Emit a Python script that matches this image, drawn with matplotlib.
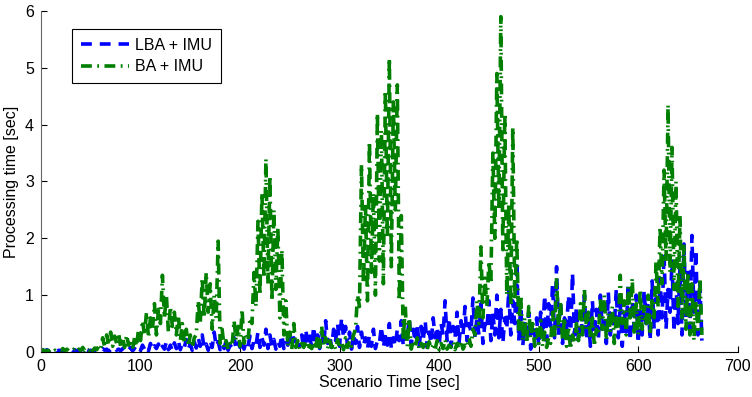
import numpy as np
import matplotlib.pyplot as plt

# sample times [sec], one sample every 2 sec
t_step = 2
t_end = 664

# BA + IMU processing time [sec]
ba_imu = [
    0.02, 0.04, 0.01, 0.03, 0.02, 0.05, 0.01, 0.03, 0.02, 0.04,
    0.03, 0.06, 0.02, 0.05, 0.02, 0.04, 0.03, 0.07, 0.02, 0.05,
    0.03, 0.08, 0.02, 0.06, 0.03, 0.09, 0.02, 0.07, 0.04, 0.10,
    0.05, 0.25, 0.08, 0.30, 0.12, 0.35, 0.10, 0.28, 0.15, 0.33,
    0.10, 0.26, 0.08, 0.30, 0.12, 0.22, 0.05, 0.25, 0.10, 0.40,
    0.20, 0.55, 0.30, 0.70, 0.25, 0.60, 0.40, 0.85, 0.30, 0.75,
    0.50, 1.35, 0.60, 1.00, 0.35, 0.80, 0.45, 0.70, 0.30, 0.65,
    0.20, 0.50, 0.15, 0.40, 0.10, 0.30, 0.08, 0.25, 0.30, 0.90,
    0.50, 1.30, 0.60, 1.40, 0.70, 1.20, 0.40, 1.00, 0.60, 1.95,
    0.15, 0.40, 0.08, 0.20, 0.05, 0.15, 0.10, 0.55, 0.20, 0.45,
    0.10, 0.75, 0.15, 0.30, 0.20, 0.60, 0.50, 1.40, 0.80, 2.30,
    1.00, 2.80, 1.30, 3.40, 1.20, 3.10, 0.90, 2.50, 1.10, 2.20,
    0.60, 1.80, 0.30, 0.90, 0.10, 0.35, 0.05, 0.50, 0.08, 0.20,
    0.05, 0.15, 0.08, 0.20, 0.04, 0.12, 0.06, 0.18, 0.05, 0.30,
    0.08, 0.45, 0.10, 0.25, 0.06, 0.20, 0.08, 0.15, 0.05, 0.22,
    0.06, 0.18, 0.04, 0.25, 0.08, 0.20, 0.10, 0.30, 0.40, 1.00,
    0.80, 3.30, 1.20, 2.60, 0.90, 3.70, 1.40, 2.80, 1.00, 4.20,
    1.60, 3.90, 1.20, 4.60, 2.00, 5.17, 1.50, 4.40, 2.50, 4.70,
    0.90, 2.40, 0.20, 0.80, 0.10, 0.60, 0.05, 0.20, 0.08, 0.25,
    0.05, 0.15, 0.08, 0.20, 0.04, 0.18, 0.06, 0.12, 0.05, 0.20,
    0.04, 0.15, 0.06, 0.22, 0.05, 0.12, 0.08, 0.18, 0.04, 0.15,
    0.06, 0.20, 0.05, 0.12, 0.08, 0.25, 0.10, 0.40, 0.30, 0.90,
    0.50, 1.85, 0.60, 1.30, 0.80, 1.60, 1.20, 3.50, 2.00, 4.90,
    2.50, 5.90, 1.80, 4.20, 1.00, 2.60, 0.80, 3.95, 0.90, 2.00,
    0.40, 1.00, 0.20, 0.60, 0.15, 0.80, 0.25, 0.50, 0.10, 0.40,
    0.15, 0.55, 0.10, 0.35, 0.08, 0.25, 0.15, 0.70, 0.30, 1.30,
    0.40, 0.90, 0.20, 0.60, 0.10, 0.45, 0.05, 0.30, 0.15, 0.50,
    0.20, 0.85, 0.30, 1.10, 0.40, 0.70, 0.25, 0.60, 0.10, 0.40,
    0.30, 0.90, 0.40, 1.00, 0.20, 0.70, 0.35, 0.80, 0.15, 0.60,
    0.40, 1.35, 0.50, 0.90, 0.30, 1.15, 0.60, 1.30, 0.35, 0.85,
    0.30, 1.10, 0.40, 0.80, 0.50, 1.00, 0.30, 0.90, 0.60, 1.60,
    0.80, 2.20, 1.20, 3.20, 1.60, 4.35, 1.40, 3.60, 1.10, 3.00,
    0.80, 2.40, 0.60, 1.90, 0.40, 1.40, 0.30, 1.20, 0.20, 0.90,
    0.40, 1.30, 0.30,
]

# LBA + IMU processing time [sec]
lba_imu = [
    0.01, 0.03, 0.02, 0.04, 0.01, 0.03, 0.02, 0.05, 0.01, 0.03,
    0.02, 0.04, 0.01, 0.03, 0.02, 0.05, 0.02, 0.04, 0.01, 0.03,
    0.02, 0.05, 0.01, 0.04, 0.02, 0.03, 0.01, 0.04, 0.02, 0.05,
    0.02, 0.06, 0.03, 0.05, 0.01, 0.04, 0.02, 0.07, 0.03, 0.05,
    0.02, 0.06, 0.01, 0.05, 0.03, 0.08, 0.02, 0.06, 0.03, 0.09,
    0.03, 0.12, 0.05, 0.10, 0.02, 0.15, 0.04, 0.11, 0.06, 0.14,
    0.03, 0.10, 0.05, 0.18, 0.04, 0.12, 0.02, 0.16, 0.06, 0.20,
    0.04, 0.15, 0.08, 0.22, 0.05, 0.14, 0.03, 0.18, 0.07, 0.25,
    0.10, 0.30, 0.06, 0.14, 0.03, 0.20, 0.08, 0.35, 0.10, 0.18,
    0.04, 0.15, 0.06, 0.20, 0.03, 0.12, 0.08, 0.25, 0.05, 0.16,
    0.08, 0.22, 0.05, 0.18, 0.10, 0.28, 0.06, 0.20, 0.12, 0.35,
    0.08, 0.25, 0.12, 0.40, 0.06, 0.30, 0.10, 0.22, 0.05, 0.18,
    0.10, 0.30, 0.06, 0.20, 0.12, 0.35, 0.08, 0.25, 0.05, 0.15,
    0.10, 0.30, 0.05, 0.40, 0.15, 0.28, 0.08, 0.45, 0.12, 0.30,
    0.06, 0.35, 0.10, 0.55, 0.15, 0.30, 0.08, 0.40, 0.20, 0.50,
    0.10, 0.60, 0.25, 0.45, 0.10, 0.35, 0.05, 0.30, 0.15, 0.45,
    0.08, 0.35, 0.12, 0.25, 0.05, 0.30, 0.10, 0.40, 0.06, 0.20,
    0.15, 0.45, 0.08, 0.30, 0.12, 0.50, 0.05, 0.25, 0.10, 0.40,
    0.20, 0.55, 0.10, 0.35, 0.25, 0.60, 0.12, 0.40, 0.18, 0.50,
    0.10, 0.45, 0.20, 0.55, 0.08, 0.35, 0.15, 0.60, 0.25, 0.45,
    0.12, 0.50, 0.30, 0.90, 0.20, 0.60, 0.10, 0.45, 0.25, 0.70,
    0.15, 0.55, 0.30, 0.80, 0.20, 0.50, 0.35, 0.95, 0.25, 0.60,
    0.30, 0.85, 0.15, 0.50, 0.40, 0.90, 0.20, 0.70, 0.30, 1.00,
    0.25, 0.75, 0.15, 0.60, 0.40, 1.10, 0.30, 0.90, 0.50, 1.60,
    0.20, 0.80, 0.10, 0.50, 0.25, 0.70, 0.05, 0.40, 0.20, 0.60,
    0.10, 0.70, 0.30, 1.00, 0.20, 0.85, 0.45, 1.20, 0.25, 1.50,
    0.30, 0.90, 0.15, 0.60, 0.40, 1.00, 0.20, 1.39, 0.30, 0.80,
    0.15, 0.70, 0.35, 1.00, 0.20, 0.60, 0.10, 0.90, 0.30, 0.75,
    0.20, 1.00, 0.40, 0.80, 0.15, 1.05, 0.30, 0.60, 0.45, 1.10,
    0.25, 0.85, 0.10, 0.70, 0.35, 1.20, 0.20, 0.90, 0.40, 1.00,
    0.15, 0.80, 0.30, 1.10, 0.50, 0.90, 0.20, 1.25, 0.40, 0.95,
    0.30, 1.30, 0.60, 1.75, 0.40, 1.10, 0.70, 1.60, 0.35, 1.20,
    0.50, 1.50, 0.30, 1.90, 0.60, 1.40, 0.40, 2.05, 0.70, 1.80,
    0.30, 1.20, 0.20,
]

t = np.arange(0, t_end + 1, t_step)

plt.rcParams['font.family'] = ['Liberation Sans', 'DejaVu Sans']

fig = plt.figure(figsize=(7.52, 3.97), dpi=100)
ax = fig.add_axes([0.0545, 0.1134, 0.9265, 0.8589])

ax.plot(t, lba_imu, color='#0000ff', linestyle=(0, (3, 2.2)), linewidth=2.6,
        label='LBA + IMU')
ax.plot(t, ba_imu, color='#007f00', linestyle=(0, (3, 1.5, 0.5, 1.5)), linewidth=2.6,
        label='BA + IMU')

ax.set_xlim(0, 700)
ax.set_ylim(0, 6)
ax.set_xticks(np.arange(0, 701, 100))
ax.set_yticks(np.arange(0, 7, 1))
ax.tick_params(direction='in', length=4, labelsize=11.5, width=0.8, pad=5)

ax.spines['top'].set_visible(False)
ax.spines['right'].set_visible(False)
ax.spines['left'].set_color('#666666')

ax.set_xlabel('Scenario Time [sec]', fontsize=11.5, labelpad=1)
ax.set_ylabel('Processing time [sec]', fontsize=11.5, labelpad=4)

leg = ax.legend(loc='upper left', bbox_to_anchor=(0.0445, 0.947), fontsize=11.5,
                fancybox=False, framealpha=1, edgecolor='black',
                handlelength=3.0, handletextpad=0.4, borderpad=0.55,
                labelspacing=0.4, borderaxespad=0)
leg.get_frame().set_linewidth(0.8)

fig.savefig('out.png', dpi=100)
